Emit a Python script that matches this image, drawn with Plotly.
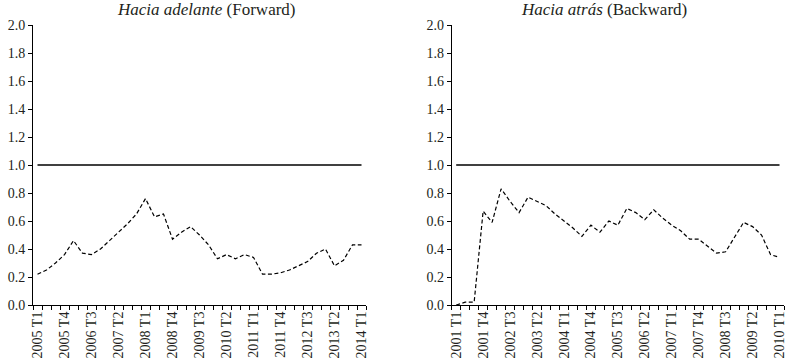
import plotly.graph_objects as go

# ---- data ----
fwd_quarters = [f"{y} T{q}" for y in range(2005, 2015) for q in range(1, 5)][:37]
bwd_quarters = [f"{y} T{q}" for y in range(2001, 2011) for q in range(1, 5)][:37]

fwd_values = [0.22, 0.25, 0.30, 0.36, 0.46, 0.37, 0.36, 0.40, 0.46, 0.52,
              0.58, 0.65, 0.76, 0.63, 0.65, 0.47, 0.52, 0.56, 0.50, 0.43,
              0.33, 0.36, 0.33, 0.36, 0.34, 0.22, 0.22, 0.23, 0.25, 0.28,
              0.31, 0.37, 0.40, 0.28, 0.32, 0.43, 0.43]
bwd_values = [0.00, 0.02, 0.02, 0.67, 0.59, 0.83, 0.74, 0.66, 0.77, 0.74,
              0.71, 0.65, 0.60, 0.55, 0.49, 0.57, 0.52, 0.60, 0.57, 0.69,
              0.66, 0.61, 0.68, 0.62, 0.57, 0.53, 0.47, 0.47, 0.42, 0.37,
              0.38, 0.49, 0.59, 0.56, 0.50, 0.36, 0.34]
reference_level = 1.0

fwd_title = "<i>Hacia adelante</i> (Forward)"
bwd_title = "<i>Hacia atrás</i> (Backward)"
y_ticks = [0.0, 0.2, 0.4, 0.6, 0.8, 1.0, 1.2, 1.4, 1.6, 1.8, 2.0]

# ---- figure ----
FONT = "Liberation Serif"
TXT = "#231f20"
W, H = 793, 363
ML, MR, MT, MB = 33, 9, 25, 58
PW = W - ML - MR

fig = go.Figure()

panels = [
    (fwd_quarters, fwd_values, "x", "y"),
    (bwd_quarters, bwd_values, "x2", "y2"),
]
for cats, vals, xa, ya in panels:
    fig.add_trace(go.Scatter(x=cats, y=[reference_level] * len(cats), mode="lines",
                             line=dict(color="black", width=1.4),
                             xaxis=xa, yaxis=ya, showlegend=False, hoverinfo="skip"))
    fig.add_trace(go.Scatter(x=cats, y=vals, mode="lines",
                             line=dict(color="black", width=1.2, dash="4px,2.5px"),
                             xaxis=xa, yaxis=ya, showlegend=False))

dom_left = [0, (366 - ML) / PW]
dom_right = [(451.7 - ML) / PW, 1]

def xaxis_cfg(cats, domain, anchor):
    labels = [c if i % 3 == 0 else "" for i, c in enumerate(cats)]
    return dict(domain=domain, anchor=anchor, type="category",
                range=[-0.5, len(cats) - 0.5],
                tickmode="array", tickvals=cats, ticktext=labels,
                tickson="boundaries", ticks="outside", ticklen=4, tickwidth=1,
                tickcolor="black", tickangle=-90,
                showline=True, linecolor="black", linewidth=1,
                showgrid=False, zeroline=False, automargin=False,
                tickfont=dict(family=FONT, size=14, color=TXT))

def yaxis_cfg(anchor):
    return dict(anchor=anchor, range=[0, 2], tickmode="array", tickvals=y_ticks,
                ticktext=[f"{v:.1f}" for v in y_ticks],
                ticks="outside", ticklen=4, tickwidth=1, tickcolor="black",
                showline=True, linecolor="black", linewidth=1,
                showgrid=False, zeroline=False, automargin=False,
                tickfont=dict(family=FONT, size=14, color=TXT))

fig.update_layout(
    width=W, height=H,
    margin=dict(l=ML, r=MR, t=MT, b=MB),
    paper_bgcolor="white", plot_bgcolor="white",
    xaxis=xaxis_cfg(fwd_quarters, dom_left, "y"),
    xaxis2=xaxis_cfg(bwd_quarters, dom_right, "y2"),
    yaxis=yaxis_cfg("x"),
    yaxis2=yaxis_cfg("x2"),
    showlegend=False,
)

for title, cx in [(fwd_title, 206.7), (bwd_title, 604)]:
    fig.add_annotation(text=title, xref="paper", yref="paper",
                       x=(cx - ML) / (W - ML - MR), y=1 + (MT - 10) / (H - MT - MB),
                       xanchor="center", yanchor="middle", showarrow=False,
                       font=dict(family=FONT, size=17, color=TXT))

fig.write_html("out.html",
               config={"displayModeBar": False},
               post_script="document.body.style.margin='0';document.body.style.overflow='hidden';")
